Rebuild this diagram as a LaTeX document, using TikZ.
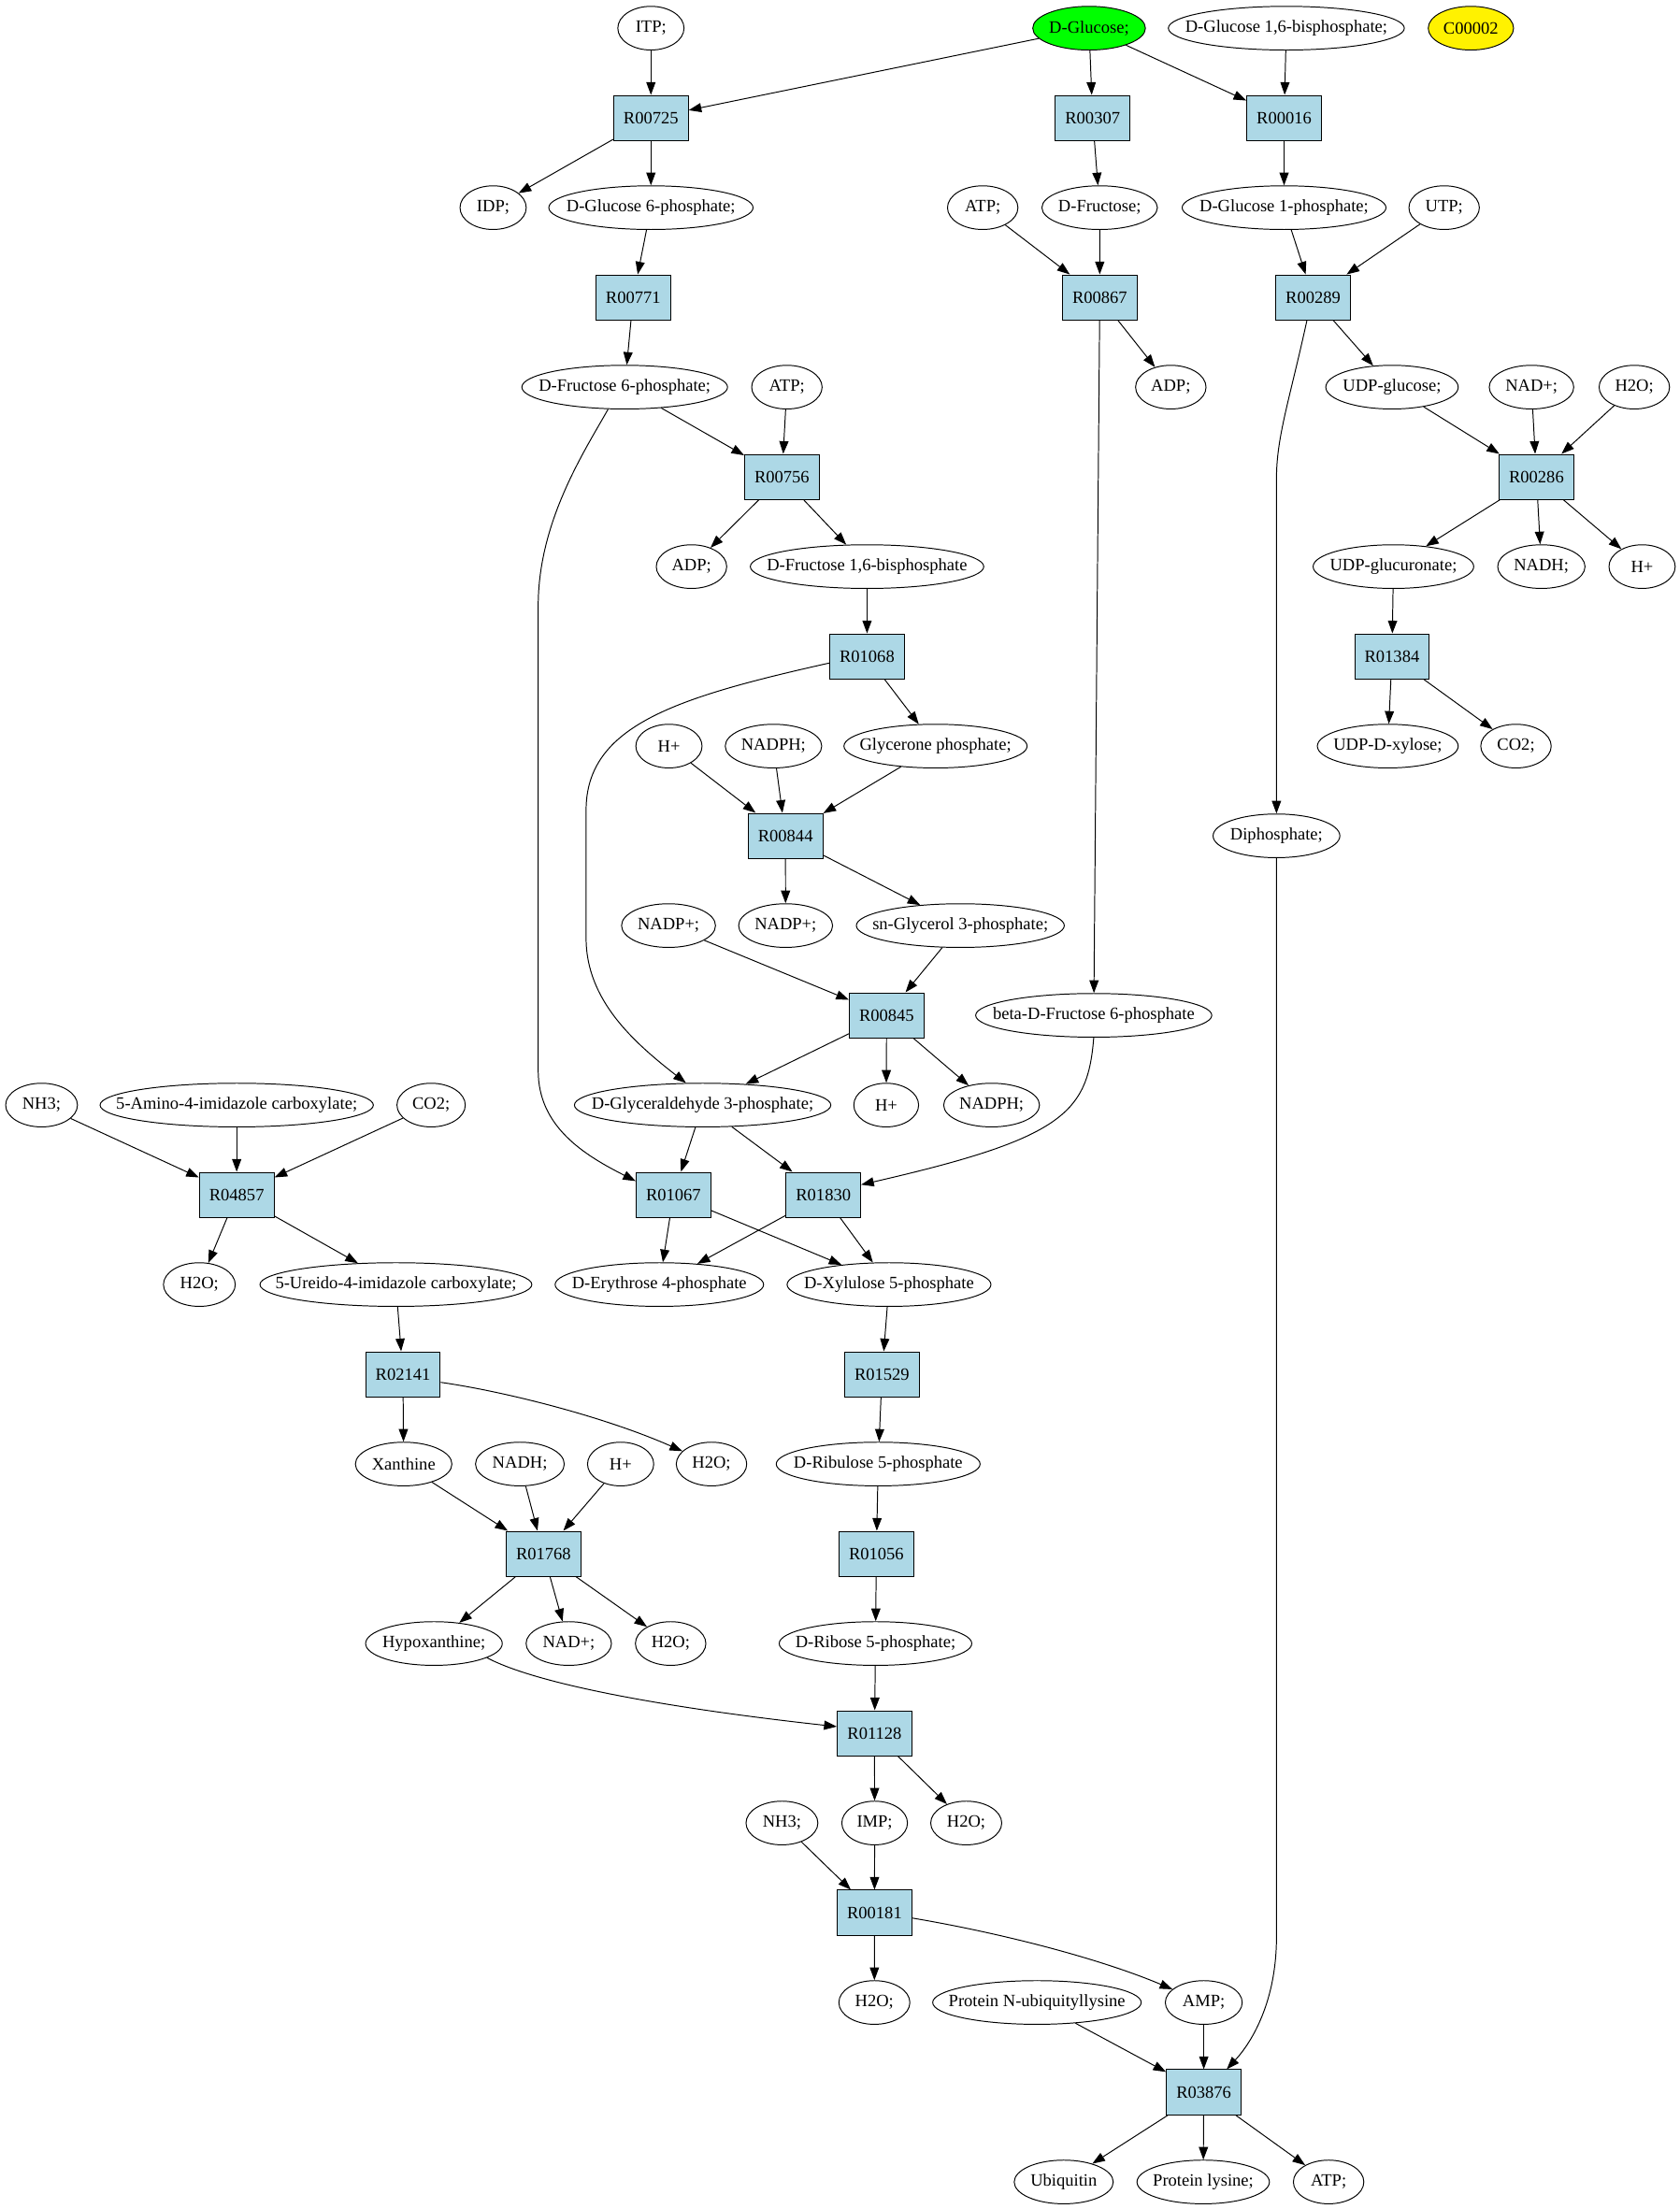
\documentclass[tikz,border=0pt]{standalone}
\usepackage{fontspec}
\setmainfont{Liberation Serif}
\usetikzlibrary{shapes.geometric,arrows.meta}
\definecolor{bleu}{HTML}{ADD8E6}
\tikzset{mol/.style={ellipse,draw,inner xsep=-40pt,inner ysep=0pt,
    minimum height=31pt,minimum width=#1pt,font=\fontsize{12.3}{14}\selectfont},
  mol/.default=50,
  reac/.style={draw,fill=bleu,minimum width=53pt,minimum height=32pt,
    inner sep=0pt,font=\fontsize{12.3}{14}\selectfont}}

\begin{document}
\begin{tikzpicture}[x=1pt,y=-1pt,line width=0.65pt,
    >={Triangle[length=9pt,width=6.5pt]}]
\useasboundingbox (0,0) rectangle (1192,1568);

  % composés
\node[mol=47] (itp) at (462,20) {ITP;};
\node[mol=80,fill=green] (glc) at (773,20) {D-Glucose;};
\node[mol=167.5] (glcbp) at (913,20) {D-Glucose 1,6-bisphosphate;};
\node[mol=60.6,fill=yellow] (cpd) at (1044,20) {C00002};
\node[mol=47] (idp) at (350,147.4) {IDP;};
\node[mol=145] (g6p) at (462,147.4) {D-Glucose 6-phosphate;};
\node[mol] (atpa) at (697.5,147.4) {ATP;};
\node[mol=82] (fru) at (780.5,147.4) {D-Fructose;};
\node[mol=144.7] (g1p) at (911.4,147.4) {D-Glucose 1-phosphate;};
\node[mol] (utp) at (1025,147.4) {UTP;};
\node[mol=146] (f6p) at (443.4,274.8) {D-Fructose 6-phosphate;};
\node[mol] (atpb) at (558.5,274.8) {ATP;};
\node[mol] (adpa) at (831,274.8) {ADP;};
\node[mol=94] (udpg) at (988,274.8) {UDP-glucose;};
\node[mol=60] (nada) at (1087,274.8) {NAD+;};
\node[mol] (h2oa) at (1160,274.8) {H2O;};
\node[mol] (adpb) at (490.8,402.2) {ADP;};
\node[mol=165.7] (fbp) at (615.4,402.2) {D-Fructose 1,6-bisphosphate};
\node[mol=114] (udpga) at (989,402.2) {UDP-glucuronate;};
\node[mol=62] (nadha) at (1094,402.2) {NADH;};
\node[mol=47] (hpa) at (1165.5,402.2) {H+};
\node[mol=47] (hpb) at (474.8,529.6) {H+};
\node[mol=68.5] (nadpha) at (549,529.6) {NADPH;};
\node[mol=130] (gnp) at (664,529.6) {Glycerone phosphate;};
\node[mol=100] (udpx) at (985,529.6) {UDP-D-xylose;};
\node[mol] (co2a) at (1076,529.6) {CO2;};
\node[mol=90] (diph) at (906,593.3) {Diphosphate;};
\node[mol=66.7] (nadpa) at (474.5,657) {NADP+;};
\node[mol=66.7] (nadpb) at (557.6,657) {NADP+;};
\node[mol=147.6] (g3p) at (681.6,657) {sn-Glycerol 3-phosphate;};
\node[mol=167.6] (bf6p) at (776.3,720.7) {beta-D-Fructose 6-phosphate};
\node[mol=51] (nh3a) at (29.5,784.4) {NH3;};
\node[mol=194] (aic) at (168,784.4) {5-Amino-4-imidazole carboxylate;};
\node[mol=48.5] (co2b) at (306,784.4) {CO2;};
\node[mol=182] (gap) at (498.7,784.4) {D-Glyceraldehyde 3-phosphate;};
\node[mol=46] (hpc) at (629,784.4) {H+};
\node[mol=68] (nadphb) at (703.8,784.4) {NADPH;};
\node[mol=51] (h2ob) at (141.5,911.8) {H2O;};
\node[mol=193] (uic) at (281,911.8) {5-Ureido-4-imidazole carboxylate;};
\node[mol=148] (e4p) at (468,911.8) {D-Erythrose 4-phosphate};
\node[mol=144.7] (x5p) at (631,911.8) {D-Xylulose 5-phosphate};
\node[mol=68.5] (xan) at (286.5,1039.2) {Xanthine};
\node[mol=63] (nadhb) at (369,1039.2) {NADH;};
\node[mol=47] (hpd) at (440.5,1039.2) {H+};
\node[mol] (h2oc) at (505,1039.2) {H2O;};
\node[mol=144.7] (ru5p) at (623.3,1039.2) {D-Ribulose 5-phosphate};
\node[mol=97] (hypx) at (308,1166.6) {Hypoxanthine;};
\node[mol=60.6] (nadb) at (403.7,1166.6) {NAD+;};
\node[mol] (h2od) at (476,1166.6) {H2O;};
\node[mol=136.7] (r5p) at (621.4,1166.6) {D-Ribose 5-phosphate;};
\node[mol=51] (nh3b) at (555,1294) {NH3;};
\node[mol=46.6] (imp) at (620.8,1294) {IMP;};
\node[mol=50.4] (h2oe) at (685.8,1294) {H2O;};
\node[mol=50.4] (h2of) at (620.6,1421.4) {H2O;};
\node[mol=148] (pnu) at (736,1421.4) {Protein N-ubiquityllysine};
\node[mol=54.6] (amp) at (854.4,1421.4) {AMP;};
\node[mol=70.3] (ubq) at (755,1548.8) {Ubiquitin};
\node[mol=94] (plys) at (854,1548.8) {Protein lysine;};
\node[mol] (atpc) at (943,1548.8) {ATP;};

  % réactions
\node[reac] (r00725) at (462,83.7) {R00725};
\node[reac] (r00307) at (775.5,83.7) {R00307};
\node[reac] (r00016) at (911.4,83.7) {R00016};
\node[reac] (r00771) at (449.4,211.1) {R00771};
\node[reac] (r00867) at (780.6,211.1) {R00867};
\node[reac] (r00289) at (932,211.1) {R00289};
\node[reac] (r00756) at (555,338.5) {R00756};
\node[reac] (r00286) at (1090.5,338.5) {R00286};
\node[reac] (r01068) at (615.4,465.9) {R01068};
\node[reac] (r01384) at (988,465.9) {R01384};
\node[reac] (r00844) at (557.5,593.3) {R00844};
\node[reac] (r00845) at (629.3,720.7) {R00845};
\node[reac] (r04857) at (168,848.1) {R04857};
\node[reac] (r01067) at (478,848.1) {R01067};
\node[reac] (r01830) at (584.4,848.1) {R01830};
\node[reac] (r02141) at (286,975.5) {R02141};
\node[reac] (r01529) at (626,975.5) {R01529};
\node[reac] (r01768) at (385.8,1102.9) {R01768};
\node[reac] (r01056) at (622,1102.9) {R01056};
\node[reac] (r01128) at (620.7,1230.3) {R01128};
\node[reac] (r00181) at (620.7,1357.7) {R00181};
\node[reac] (r03876) at (854.4,1485.1) {R03876};

  % liaisons
\foreach \a/\b in {itp/r00725,glc/r00725,glc/r00307,glc/r00016,glcbp/r00016,
    r00725/idp,r00725/g6p,r00307/fru,r00016/g1p,
    g6p/r00771,atpa/r00867,fru/r00867,g1p/r00289,utp/r00289,
    r00771/f6p,r00867/adpa,r00867/bf6p,r00289/udpg,
    f6p/r00756,atpb/r00756,udpg/r00286,nada/r00286,h2oa/r00286,
    r00756/adpb,r00756/fbp,r00286/udpga,r00286/nadha,r00286/hpa,
    fbp/r01068,udpga/r01384,r01068/gnp,r01384/udpx,r01384/co2a,
    hpb/r00844,nadpha/r00844,gnp/r00844,r00844/nadpb,r00844/g3p,
    nadpa/r00845,g3p/r00845,r00845/gap,r00845/hpc,r00845/nadphb,
    nh3a/r04857,aic/r04857,co2b/r04857,gap/r01067,gap/r01830,
    r04857/h2ob,r04857/uic,r01067/e4p,r01067/x5p,r01830/e4p,r01830/x5p,
    uic/r02141,x5p/r01529,r02141/xan,r01529/ru5p,
    xan/r01768,nadhb/r01768,hpd/r01768,ru5p/r01056,
    r01768/hypx,r01768/nadb,r01768/h2od,r01056/r5p,r5p/r01128,
    r01128/imp,r01128/h2oe,nh3b/r00181,imp/r00181,r00181/h2of,
    pnu/r03876,amp/r03876,r03876/ubq,r03876/plys,r03876/atpc}
  \draw[->] (\a) -- (\b);

  % liaisons courbes
\draw[->] (f6p.-127) .. controls (415,320) and (382,370) .. (382,430)
  -- (382,760) .. controls (382,800) and (415,820) .. (r01067.160);
\draw[->] (r00289.-105) .. controls (915,285) and (906,310) .. (906,340) -- (diph);
\draw[->] (r01068.190) .. controls (480,495) and (416,515) .. (416,575)
  -- (416,666) .. controls (416,710) and (450,740) .. (gap.127);
\draw[->] (bf6p.south) .. controls (772,790) and (755,808) .. (r01830.15);
\draw[->] (diph.south) -- (906,1375) .. controls (906,1420) and (889,1449) .. (r03876.45);
\draw[->] (r02141.-12) .. controls (360,988) and (430,1006) .. (h2oc);
\draw[->] (hypx.-15) .. controls (380,1195) and (470,1212) .. (r01128.170);
\draw[->] (r00181.-8) .. controls (710,1372) and (780,1390) .. (amp);
\end{tikzpicture}
\end{document}
